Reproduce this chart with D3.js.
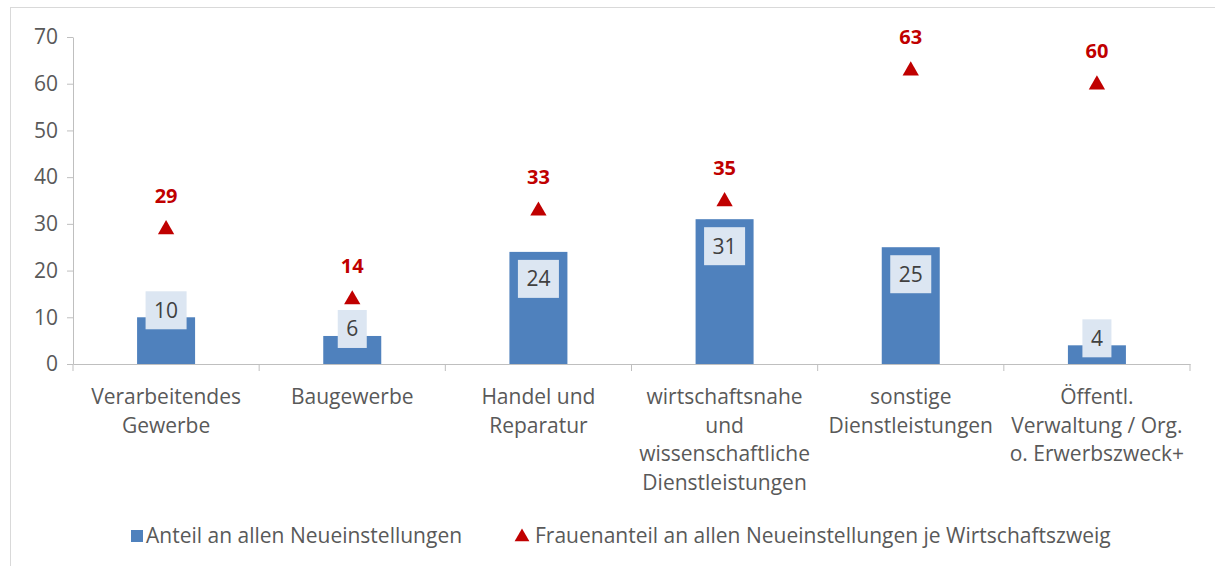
<!DOCTYPE html>
<html>
<head>
<meta charset="utf-8">
<script src="https://cdn.jsdelivr.net/npm/d3@7"></script>
<style>
  body { margin: 0; background: #fff; }
  svg { display: block; font-family: "Open Sans", sans-serif; }
</style>
</head>
<body>
<script>
  // Data
  const categories = [
    ['Verarbeitendes', 'Gewerbe'],
    ['Baugewerbe'],
    ['Handel und', 'Reparatur'],
    ['wirtschaftsnahe', 'und', 'wissenschaftliche', 'Dienstleistungen'],
    ['sonstige', 'Dienstleistungen'],
    ['Öffentl.', 'Verwaltung / Org.', 'o. Erwerbszweck+']
  ];
  const shareAll = [10, 6, 24, 31, 25, 4];
  const shareWomen = [29, 14, 33, 35, 63, 60];
  const yTicks = [0, 10, 20, 30, 40, 50, 60, 70];
  const legendLabels = ['Anteil an allen Neueinstellungen', 'Frauenanteil an allen Neueinstellungen je Wirtschaftszweig'];

  const width = 1215;
  const height = 566;
  const margin = { top: 37, right: 25, bottom: 202, left: 73 };

  const barColor = '#4f81bd';
  const red = '#c00000';
  const axisColor = '#bfbfbf';
  const textColor = '#595959';
  const fontSize = '21px';

  const svg = d3.select('body')
    .append('svg')
    .attr('width', width)
    .attr('height', height);

  // chart frame
  svg.append('rect')
    .attr('x', 10.5)
    .attr('y', 7.5)
    .attr('width', width)
    .attr('height', height)
    .attr('fill', 'none')
    .attr('stroke', '#d9d9d9');

  const x = d3.scaleBand()
    .domain(d3.range(categories.length))
    .range([margin.left, width - margin.right]);

  const y = d3.scaleLinear()
    .domain([0, 70])
    .range([height - margin.bottom, margin.top]);

  // Y axis
  const yAxis = svg.append('g')
    .attr('transform', `translate(${margin.left},0)`)
    .call(d3.axisLeft(y).tickValues(yTicks).tickSizeInner(6).tickSizeOuter(0).tickPadding(9));
  yAxis.selectAll('line, path').attr('stroke', axisColor);
  yAxis.selectAll('text')
    .attr('fill', textColor)
    .style('font-size', fontSize)
    .style('font-family', '"Open Sans", sans-serif');

  // X axis
  const xAxis = svg.append('g')
    .attr('transform', `translate(0,${y(0)})`)
    .call(d3.axisBottom(x).tickSize(0).tickFormat(''));
  xAxis.select('.domain').attr('stroke', axisColor);
  xAxis.selectAll('.tick').remove();

  // category separators
  xAxis.selectAll('.sep')
    .data(d3.range(categories.length + 1))
    .enter()
    .append('line')
    .attr('class', 'sep')
    .attr('x1', i => (i < categories.length ? x(i) : x.range()[1]))
    .attr('x2', i => (i < categories.length ? x(i) : x.range()[1]))
    .attr('y1', 0)
    .attr('y2', 7)
    .attr('stroke', axisColor);

  // category labels
  const catLabels = svg.append('g')
    .selectAll('text')
    .data(categories)
    .enter()
    .append('text')
    .attr('text-anchor', 'middle')
    .attr('fill', textColor)
    .style('font-size', fontSize)
    .attr('x', (d, i) => x(i) + x.bandwidth() / 2)
    .attr('y', y(0) + 40);
  catLabels.selectAll('tspan')
    .data(d => d)
    .enter()
    .append('tspan')
    .attr('x', function () { return this.parentNode.getAttribute('x'); })
    .attr('dy', (d, i) => (i === 0 ? 0 : 28.5))
    .text(d => d);

  // Bars
  const barWidth = 58;
  svg.append('g')
    .selectAll('rect')
    .data(shareAll)
    .enter()
    .append('rect')
    .attr('x', (d, i) => x(i) + x.bandwidth() / 2 - barWidth / 2)
    .attr('y', d => y(d))
    .attr('width', barWidth)
    .attr('height', d => y(0) - y(d))
    .attr('fill', barColor);

  // Bar value labels with boxes
  const boxH = 38;
  const labels = svg.append('g')
    .selectAll('g')
    .data(shareAll)
    .enter()
    .append('g')
    .attr('transform', (d, i) => {
      const cx = x(i) + x.bandwidth() / 2;
      const barH = y(0) - y(d);
      const cy = barH > boxH + 20 ? y(d) + 8 + boxH / 2 : y(d) - 7;
      return `translate(${cx},${cy})`;
    });
  const boxes = labels.append('rect')
    .attr('y', -boxH / 2)
    .attr('height', boxH)
    .attr('fill', '#dce6f2');
  labels.append('text')
    .attr('text-anchor', 'middle')
    .attr('dy', '0.35em')
    .attr('fill', '#404040')
    .style('font-size', fontSize)
    .text(d => d)
    .each(function (d, i) {
      const w = this.getComputedTextLength() + 17;
      d3.select(boxes.nodes()[i]).attr('x', -w / 2).attr('width', w);
    });

  // Triangles (women share)
  const tri = d3.symbol().type(d3.symbolTriangle).size(115);
  svg.append('g')
    .selectAll('path')
    .data(shareWomen)
    .enter()
    .append('path')
    .attr('d', tri)
    .attr('transform', (d, i) => `translate(${x(i) + x.bandwidth() / 2},${y(d) + 1})`)
    .attr('fill', red);

  svg.append('g')
    .selectAll('text')
    .data(shareWomen)
    .enter()
    .append('text')
    .attr('text-anchor', 'middle')
    .attr('x', (d, i) => x(i) + x.bandwidth() / 2)
    .attr('y', d => y(d) - 26)
    .attr('fill', red)
    .style('font-size', '20px')
    .style('font-weight', 'bold')
    .text(d => d);

  // Legend
  const legend = svg.append('g').attr('transform', 'translate(0,536)');
  legend.append('rect')
    .attr('x', 131)
    .attr('y', -6)
    .attr('width', 12)
    .attr('height', 12)
    .attr('fill', barColor);
  legend.append('text')
    .attr('x', 146)
    .attr('dy', '0.35em')
    .attr('fill', textColor)
    .style('font-size', fontSize)
    .text(legendLabels[0]);
  legend.append('path')
    .attr('d', d3.symbol().type(d3.symbolTriangle).size(95))
    .attr('transform', 'translate(522,1)')
    .attr('fill', red);
  legend.append('text')
    .attr('x', 535)
    .attr('dy', '0.35em')
    .attr('fill', textColor)
    .style('font-size', fontSize)
    .text(legendLabels[1]);
</script>
</body>
</html>
